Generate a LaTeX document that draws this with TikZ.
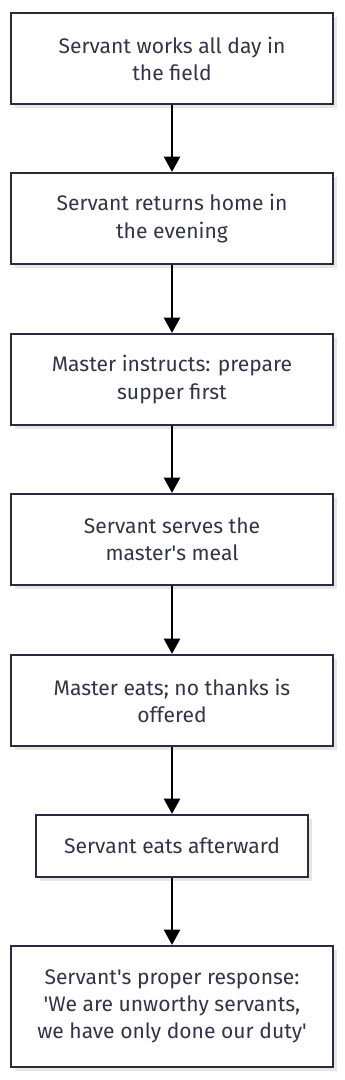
\documentclass[tikz,border=0pt]{standalone}
\usepackage{fontspec}
\setmainfont{Fira Sans}
\usepackage{xcolor}
\definecolor{stepline}{HTML}{2B2B40}
\definecolor{steptext}{HTML}{33334A}
\definecolor{stepshade}{HTML}{E6E6E6}
\usetikzlibrary{arrows.meta,positioning,shadows}
\tikzset{
  stepbox/.style={draw=stepline,line width=1.6pt,fill=white,align=center,font=\fontsize{15.8}{20.3}\selectfont,text=steptext,
    minimum width=241.5pt,minimum height=68.25pt,inner sep=0pt,
    drop shadow={shadow xshift=3pt,shadow yshift=-3pt,fill=stepshade,opacity=1}},
  stepflow/.style={-{Triangle[length=11.5pt,width=12pt]},line width=2pt,black},
}
\begin{document}
\begin{tikzpicture}[x=0.75pt,y=-0.75pt]
\useasboundingbox (0,0) rectangle (344,1080);
% parable of the unworthy servant
\node[stepbox] (field) at (172,58.5) {Servant works all day in\\the field};
\node[stepbox] (home) at (172,218.5) {Servant returns home in\\the evening};
\node[stepbox] (supper) at (172,379.5) {Master instructs: prepare\\supper first};
\node[stepbox] (serve) at (172,539.5) {Servant serves the\\master\textquotesingle s meal};
\node[stepbox] (eats) at (172,700.5) {Master eats; no thanks is\\offered};
\node[stepbox,minimum width=204pt,minimum height=46.5pt] (after) at (172,846) {Servant eats afterward};
\node[stepbox,minimum height=90.75pt] (duty) at (172,1006.5) {Servant\textquotesingle s proper response:\\\textquotesingle We are unworthy servants,\\we have only done our duty\textquotesingle};
\draw[stepflow] (field) -- (home);
\draw[stepflow] (home) -- (supper);
\draw[stepflow] (supper) -- (serve);
\draw[stepflow] (serve) -- (eats);
\draw[stepflow] (eats) -- (after);
\draw[stepflow] (after) -- (duty);
\end{tikzpicture}
\end{document}
